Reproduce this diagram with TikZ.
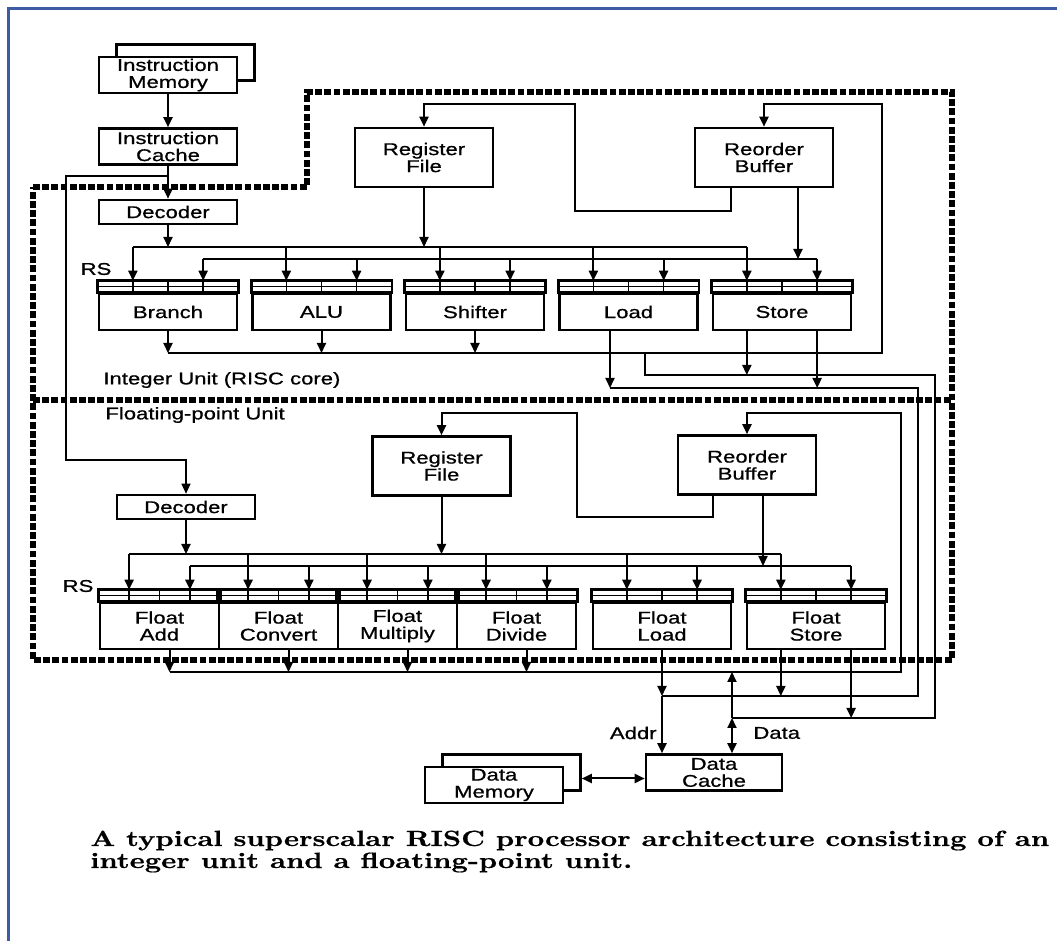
\documentclass[tikz,border=0pt]{standalone}
\usepackage{fontspec}
\newfontfamily\blockfont{Liberation Sans}[FakeStretch=1.3, FakeBold=0.8]
\newfontfamily\capfont{lmroman10-bold.otf}[FakeStretch=1.3, FakeBold=0.6]
\usetikzlibrary{arrows.meta,calc}
\definecolor{framecol}{RGB}{62,92,164}

\begin{document}
\begin{tikzpicture}[
    x=0.5pt, y=-0.5pt,
    font=\blockfont\fontsize{8.5}{8.5}\selectfont,
    block/.style={draw, fill=white, line width=1.3pt, inner sep=0pt, align=center},
    membox/.style={block, minimum width=69pt, minimum height=18pt},
    decbox/.style={block, minimum width=69pt, minimum height=12pt},
    bufbox/.style={block, minimum width=69pt, minimum height=29.5pt},
    rsbox/.style={block, minimum width=69pt, minimum height=18pt},
    fpbox/.style={block, minimum width=59.5pt, minimum height=23pt},
    fpwide/.style={block, minimum width=69pt, minimum height=23pt},
    tag/.style={inner sep=0pt},
    wire/.style={line width=1pt},
    arrow/.style={wire, -{Triangle[length=5pt,width=4.5pt]}},
    dblarrow/.style={wire, {Triangle[length=5pt,width=4.5pt]}-{Triangle[length=5pt,width=4.5pt]}},
    unitline/.style={line width=2.6pt, dash pattern=on 3.4pt off 1.2pt}
]

\useasboundingbox (0,0) rectangle (1057,941);
\fill[white] (0,0) rectangle (1057,941);
\draw[framecol, line width=1.5pt] (8,941) -- (8,9) -- (1057,9);

% unit borders
\draw[unitline] (33,187) -- (307,187) -- (307,92) -- (952,92) -- (952,660) -- (33,660) -- cycle;
\draw[unitline] (33,400) -- (952,400);

% instruction side
\node[membox] (imemb) at (185.5,62.5) {};
\node[membox] (imem) at (168,75) {Instruction\\Memory};
\node[membox] (icache) at (168,146.5) {Instruction\\Cache};
\node[decbox] (idec) at (168,212) {Decoder};

% integer unit
\node[bufbox] (irf) at (424,157.5) {Register\\File};
\node[bufbox] (irob) at (764,157.5) {Reorder\\Buffer};
\node[rsbox] (branch) at (168,312) {Branch};
\node[rsbox] (alu) at (321.5,312) {ALU};
\node[rsbox] (shift) at (475,312) {Shifter};
\node[rsbox] (load) at (628.5,312) {Load};
\node[rsbox] (store) at (782,312) {Store};
\node[tag] (irs) at (96,269) {RS};
\node[tag, anchor=west] (intlbl) at (103,380) {Integer Unit (RISC core)};

% floating-point unit
\node[decbox] (fdec) at (186,507) {Decoder};
\node[bufbox] (frf) at (441.5,466) {Register\\File};
\node[bufbox] (frob) at (747,465) {Reorder\\Buffer};
\node[fpbox] (fadd) at (159.5,626) {Float\\Add};
\node[fpbox] (fconv) at (278.5,626) {Float\\Convert};
\node[fpbox] (fmul) at (397.5,626) {Float\\Multiply};
\node[fpbox] (fdiv) at (516.5,626) {Float\\Divide};
\node[fpwide] (fload) at (662,626) {Float\\Load};
\node[fpwide] (fstore) at (816,626) {Float\\Store};
\node[tag] (frs) at (78,586) {RS};
\node[tag, anchor=west] (fplbl) at (105,415) {Floating-point Unit};

% data side
\node[membox] (dmemb) at (511.5,772.5) {};
\node[membox] (dmem) at (494,785) {Data\\Memory};
\node[membox, minimum width=68pt] (dcache) at (714,772.5) {Data\\Cache};
\node[tag, anchor=east] (addrlbl) at (657,733) {Addr};
\node[tag, anchor=west] (datalbl) at (753,733) {Data};

% caption
\node[tag, anchor=base west, font=\capfont\fontsize{11}{13}\selectfont] (cap1) at (90,846) {A typical superscalar RISC processor architecture consisting of an};
\node[tag, anchor=base west, font=\capfont\fontsize{11}{13}\selectfont] (cap2) at (90,868) {integer unit and a floating-point unit.};

% reservation station headers
\foreach \u in {branch,alu,shift,load,store,fadd,fconv,fmul,fdiv,fload,fstore}{
  \draw[line width=1.3pt] (\u.north west) rectangle ($(\u.north east)+(0,-12)$);
  \draw[line width=0.6pt] ($(\u.north west)+(0,-6)$) -- ($(\u.north east)+(0,-6)$);
  \foreach \f in {0.25,0.5,0.75}
    \draw[line width=0.8pt] ($(\u.north west)!\f!(\u.north east)$) -- ++(0,-12);
  \coordinate (\u-a) at ($(\u.north west)!0.25!(\u.north east)+(0,-12)$);
  \coordinate (\u-b) at ($(\u.north west)!0.75!(\u.north east)+(0,-12)$);
}

\coordinate (ibusa) at (0,247);
\coordinate (ibusb) at (0,259);
\coordinate (ires) at (0,353);
\coordinate (fbusa) at (0,554);
\coordinate (fbusb) at (0,566);
\coordinate (fres) at (0,672);

% instruction fetch
\draw[arrow] (imem) -- (icache);
\draw[arrow] (icache) -- (idec);
\coordinate (icsplit) at (168,176);
\coordinate (fdturn) at (66,460);
\draw[arrow, line width=0.6pt] (icsplit) -| (fdturn) -| (fdec.north);

% integer issue buses
\draw[wire] (branch-a |- ibusa) -- (store-a |- ibusa);
\draw[wire] (branch-b |- ibusb) -- (store-b |- ibusb);
\foreach \u in {branch,alu,shift,load,store}{
  \draw[arrow] (\u-a |- ibusa) -- (\u-a);
  \draw[arrow] (\u-b |- ibusb) -- (\u-b);
}
\draw[arrow] (idec) -- (idec |- ibusa);
\draw[arrow] (irf) -- (irf |- ibusa);
\coordinate (irob-o) at ([xshift=17pt]irob.south);
\draw[arrow] (irob-o) -- (irob-o |- ibusb);

% integer write back
\coordinate (irob-f) at ([xshift=-16.5pt]irob.south);
\coordinate (ifb1) at (575,211);
\coordinate (ifb2) at (575,104);
\draw[arrow] (irob-f) |- (ifb1) -- (ifb2) -| (irf.north);
\coordinate (iresr) at (882,353);
\coordinate (irobtop) at (882,104);
\draw[arrow] (branch |- ires) -- (iresr) -- (irobtop) -| (irob.north);
\foreach \u in {branch,alu,shift}
  \draw[arrow] (\u) -- (\u |- ires);

% floating-point issue buses
\draw[wire] (fadd-a |- fbusa) -- (fstore-a |- fbusa);
\draw[wire] (fadd-b |- fbusb) -- (fstore-b |- fbusb);
\foreach \u in {fadd,fconv,fmul,fdiv,fload,fstore}{
  \draw[arrow] (\u-a |- fbusa) -- (\u-a);
  \draw[arrow] (\u-b |- fbusb) -- (\u-b);
}
\draw[arrow] (fdec) -- (fdec |- fbusa);
\draw[arrow] (frf) -- (frf |- fbusa);
\coordinate (frob-o) at ([xshift=8pt]frob.south);
\draw[arrow] (frob-o) -- (frob-o |- fbusb);

% floating-point write back
\coordinate (frob-f) at ([xshift=-17pt]frob.south);
\coordinate (ffb1) at (577,517);
\coordinate (ffb2) at (577,413);
\draw[arrow] (frob-f) |- (ffb1) -- (ffb2) -| (frf.north);
\foreach \u in {fadd,fconv,fmul,fdiv}{
  \coordinate (\u-o) at ([xshift=5pt]\u.south);
  \draw[arrow] (\u-o) -- (\u-o |- fres);
}
\coordinate (fresr) at (901,672);
\coordinate (ffbtop) at (901,413);
\draw[arrow] (fadd-o |- fres) -- (fresr) -- (ffbtop) -| (frob.north);

% loads and stores to the data cache
\coordinate (load-o) at ([xshift=-9.25pt]load.south);
\coordinate (dcache-d) at ([xshift=9pt]dcache.north);
\coordinate (idtop) at (645,353);
\coordinate (idr) at (935,375);
\coordinate (fdr) at (935,718);
\coordinate (iar) at (918,388);
\coordinate (far) at (918,696);
\draw[arrow] (load-o) -- (load-o |- iar);
\draw[arrow] (store-a |- store.south) -- (store-a |- idr);
\draw[arrow] (store-b |- store.south) -- (store-b |- iar);
\draw[wire] (idtop) |- (idr) -- (fdr) -- (dcache-d |- fdr);
\draw[wire] (load-o |- iar) -- (iar) -- (far) -- (fload |- far);
\draw[arrow] (fstore-a |- fstore.south) -- (fstore-a |- far);
\draw[arrow] (fstore-b |- fstore.south) -- (fstore-b |- fdr);
\draw[arrow] (fload) -- (fload |- far);
\draw[arrow] (fload |- far) -- (fload |- dcache.north);
\draw[dblarrow] (dcache-d) -- (dcache-d |- fdr);
\draw[arrow] (dcache-d |- fdr) -- (dcache-d |- fres);
\draw[dblarrow] ([yshift=-3pt]dmemb.east) -- ([yshift=-3pt]dcache.west);

\end{tikzpicture}
\end{document}
